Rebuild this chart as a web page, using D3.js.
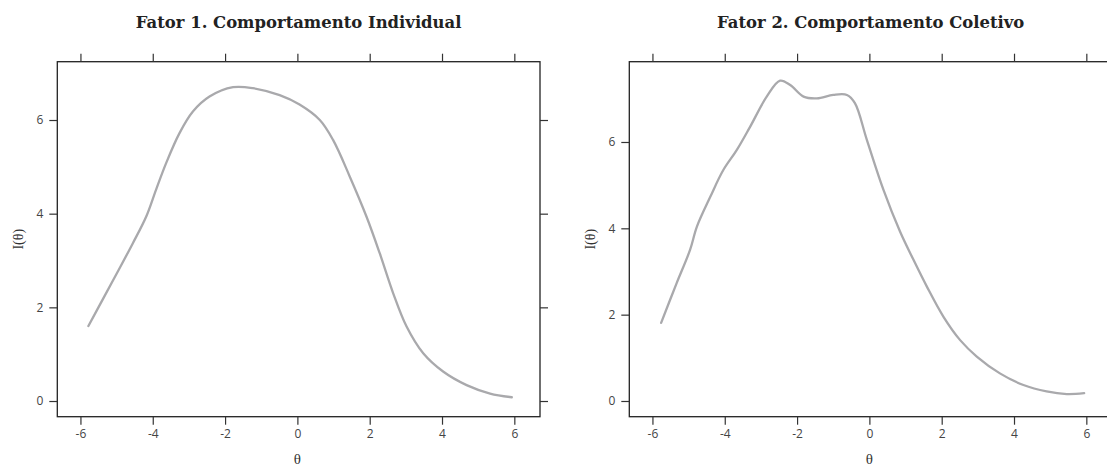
<!DOCTYPE html>
<html>
<head>
<meta charset="utf-8">
<script src="https://cdn.jsdelivr.net/npm/d3@7"></script>
<style>
  body { margin: 0; background: #fff; }
  .tick text { font-family: "Open Sans", sans-serif; font-size: 12px; fill: #444; }
  .tick line { stroke: #333; stroke-width: 1.2; }
  .title { font-family: "DejaVu Serif", serif; font-weight: bold; fill: #222; }
  .label { font-family: "Liberation Serif", serif; font-size: 15px; fill: #333; }
</style>
</head>
<body>
<svg id="chart" width="1107" height="467"></svg>
<script>
/* data */
var xTicks = [-6, -4, -2, 0, 2, 4, 6];
var yTicks = [0, 2, 4, 6];

var titles = ["Fator 1. Comportamento Individual", "Fator 2. Comportamento Coletivo"];

var theta1 = [-5.78, -5.39, -4.97, -4.55, -4.18, -3.91, -3.63, -3.26, -2.89, -2.43, -1.78, -1.23,
              -0.49, 0.06, 0.62, 0.99, 1.45, 1.91, 2.28, 2.65, 3.02, 3.48, 4.03, 4.68, 5.33, 5.93];
var info1 = [1.60, 2.16, 2.76, 3.37, 3.94, 4.51, 5.08, 5.72, 6.18, 6.50, 6.70, 6.68,
             6.53, 6.33, 6.00, 5.57, 4.79, 3.94, 3.15, 2.30, 1.59, 1.02, 0.63, 0.34, 0.16, 0.08];

var theta2 = [-5.76, -5.33, -4.96, -4.77, -4.40, -4.04, -3.67, -3.30, -2.84, -2.47, -2.19, -1.82,
              -1.45, -1.00, -0.62, -0.40, -0.07, 0.39, 0.85, 1.22, 1.59, 2.05, 2.51, 2.97,
              3.61, 4.26, 4.90, 5.46, 5.94];
var info2 = [1.81, 2.73, 3.50, 4.04, 4.73, 5.35, 5.81, 6.35, 7.05, 7.42, 7.32, 7.05,
             7.01, 7.09, 7.09, 6.90, 6.05, 4.89, 3.92, 3.27, 2.65, 1.95, 1.41, 1.03,
             0.64, 0.37, 0.22, 0.16, 0.18];

/* layout */
var panelW = 482.7,
    plotTop = 61.7,
    plotBottom = 416.7,
    tickLen = 8;

var svg = d3.select("#chart");

/* title font size fitted on the first title */
var probe = svg.append("text").attr("class", "title").style("font-size", "16px").text(titles[0]);
var titleSize = 16 * 326 / probe.node().getComputedTextLength();
probe.remove();

function plainMinus(d){ return String(d); } // hyphen instead of unicode minus

function drawPanel(left, theta, info, yDomain, title){

    var h = plotBottom - plotTop;
    var x = d3.scaleLinear().domain([-6.64, 6.71]).range([0, panelW]);
    var y = d3.scaleLinear().domain(yDomain).range([h, 0]);

    var g = svg.append("g")
        .attr("transform", "translate(" + left + "," + plotTop + ")");

    // frame
    g.append("rect")
        .attr("width", panelW)
        .attr("height", h)
        .attr("fill", "none")
        .attr("stroke", "#222")
        .attr("stroke-width", 1.3);

    // axes (ticks only, the frame is the rect above)
    g.append("g").attr("transform", "translate(0," + h + ")")
        .call(d3.axisBottom(x).tickValues(xTicks).tickSize(tickLen).tickPadding(5)
              .tickFormat(plainMinus))
        .select(".domain").remove();

    g.append("g")
        .call(d3.axisTop(x).tickValues(xTicks).tickSize(tickLen).tickFormat(""))
        .select(".domain").remove();

    g.append("g")
        .call(d3.axisLeft(y).tickValues(yTicks).tickSize(tickLen).tickPadding(6)
              .tickFormat(plainMinus))
        .select(".domain").remove();

    g.append("g").attr("transform", "translate(" + panelW + ",0)")
        .call(d3.axisRight(y).tickValues(yTicks).tickSize(tickLen).tickFormat(""))
        .select(".domain").remove();

    // curve
    var pts = theta.map(function(t, i){ return [t, info[i]]; });
    g.append("path")
        .datum(pts)
        .attr("fill", "none")
        .attr("stroke", "#a9a9ac")
        .attr("stroke-width", 2.3)
        .attr("stroke-linecap", "round")
        .attr("d", d3.line()
            .x(function(d){ return x(d[0]); })
            .y(function(d){ return y(d[1]); })
            .curve(d3.curveCatmullRom.alpha(0.5)));

    // labels
    svg.append("text")
        .attr("class", "title")
        .style("font-size", titleSize + "px")
        .attr("x", left + panelW / 2)
        .attr("y", 28)
        .attr("text-anchor", "middle")
        .text(title);

    svg.append("text")
        .attr("class", "label")
        .attr("x", left + x(0))
        .attr("y", 464)
        .attr("text-anchor", "middle")
        .text("\u03b8");

    svg.append("text")
        .attr("class", "label")
        .style("font-size", "14px")
        .attr("transform", "translate(" + (left - 39) + "," + (plotTop + h / 2) + ") rotate(-90)")
        .attr("text-anchor", "middle")
        .attr("dominant-baseline", "central")
        .text("I(\u03b8)");
}

drawPanel(57.3, theta1, info1, [-0.335, 7.245], titles[0]);
drawPanel(629.3, theta2, info2, [-0.364, 7.86], titles[1]);
</script>
</body>
</html>
